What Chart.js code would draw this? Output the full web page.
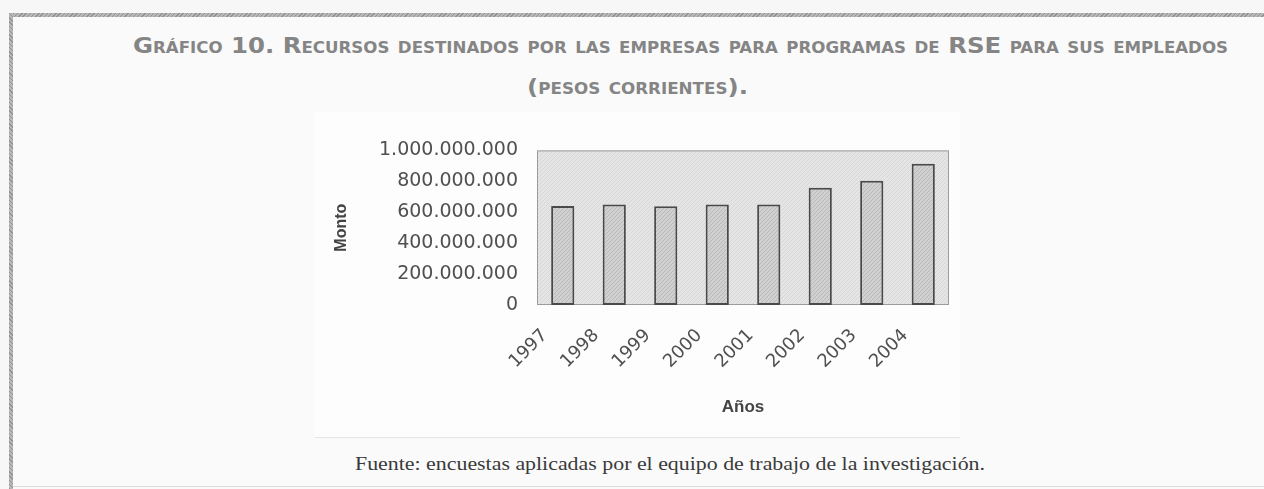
<!DOCTYPE html>
<html><head><meta charset="utf-8">
<script src="https://cdn.jsdelivr.net/npm/chart.js@4.4.1/dist/chart.umd.min.js"></script>
<style>
html,body{margin:0;padding:0;}
body{width:1264px;height:489px;position:relative;overflow:hidden;background:#f7f7f7;}
#frameTop{position:absolute;left:9px;top:13px;width:1255px;height:4px;background:repeating-linear-gradient(135deg,#939393 0 1px,#b8b8b8 1px 3px);}
#frameLeft{position:absolute;left:9px;top:13px;width:4px;height:476px;background:repeating-linear-gradient(45deg,#939393 0 1px,#b8b8b8 1px 3px);}
#inner{position:absolute;left:13px;top:17px;right:0;bottom:0;background:#fafafa;}
#bottomLine{position:absolute;left:13px;right:0;top:486px;height:1px;background:#dcdcdc;}
#box{position:absolute;left:315px;top:112px;width:645px;height:325px;background:#fdfdfd;border-bottom:1px solid #e4e4e4;}
.t{position:absolute;white-space:nowrap;transform-origin:0 0;}
#t1{top:33px;left:133px;font:bold 22px "DejaVu Sans";font-variant:small-caps;color:#858585;}
#t2{top:74px;left:527px;font:bold 22px "DejaVu Sans";font-variant:small-caps;color:#858585;}
#foot{top:453px;left:355px;font:19px "Liberation Serif";color:#3a3a3a;}
#wrap{position:absolute;left:300px;top:120px;width:680px;height:310px;}
</style></head>
<body>
<div id="frameTop"></div><div id="frameLeft"></div><div id="inner"></div>
<div id="bottomLine"></div>
<div id="box"></div>
<div class="t" id="t1" data-w="1095">Gráfico 10. Recursos destinados por las empresas para programas de RSE para sus empleados</div>
<div class="t" id="t2" data-w="221">(pesos corrientes).</div>
<div class="t" id="foot" data-w="630">Fuente: encuestas aplicadas por el equipo de trabajo de la investigación.</div>
<div id="wrap"><canvas id="c" width="680" height="310"></canvas></div>
<script>
const categories = ['1997','1998','1999','2000','2001','2002','2003','2004'];
const montos = [640000000, 650000000, 638000000, 650000000, 650000000, 758000000, 803000000, 913000000];
const yTickValues = [0, 200000000, 400000000, 600000000, 800000000, 1000000000];
const yTickLabels = ['0','200.000.000','400.000.000','600.000.000','800.000.000','1.000.000.000'];

document.querySelectorAll('.t').forEach(el=>{
  const w = el.getBoundingClientRect().width;
  el.style.transform = 'scaleX(' + (parseFloat(el.dataset.w)/w) + ')';
});

function makePattern(base, line){
  const p = document.createElement('canvas'); p.width = 4; p.height = 4;
  const g = p.getContext('2d');
  g.fillStyle = base; g.fillRect(0,0,4,4);
  g.fillStyle = line;
  for(let i=0;i<4;i++){ g.fillRect(i,3-i,1,1); }
  return g.createPattern(p,'repeat');
}
const ctx = document.getElementById('c').getContext('2d');
const barFill = makePattern('#d0d0d0','#b9b9b9');
const plotFill = makePattern('#e5e5e5','#d7d7d7');

const plotBg = {
  id:'plotBg',
  beforeDatasetsDraw(chart){
    const {ctx, chartArea:a} = chart;
    ctx.save();
    ctx.fillStyle = plotFill;
    ctx.fillRect(a.left, a.top, a.right-a.left, a.bottom-a.top);
    ctx.strokeStyle = '#9c9c9c'; ctx.lineWidth = 1;
    ctx.strokeRect(a.left+0.5, a.top+0.5, a.right-a.left-1, a.bottom-a.top-1);
    ctx.restore();
  }
};

new Chart(ctx, {
  type:'bar',
  data:{labels:categories, datasets:[{data:montos, backgroundColor:barFill, borderColor:'#4a4a4a', borderWidth:2, borderSkipped:false, barPercentage:0.45, categoryPercentage:1}]},
  options:{
    responsive:false, animation:false, devicePixelRatio:1,
    layout:{padding:{left:0,right:31,top:30,bottom:0}},
    plugins:{legend:{display:false}, tooltip:{enabled:false}, title:{display:false}},
    scales:{
      x:{
        grid:{display:false}, border:{display:false},
        ticks:{font:{family:'DejaVu Sans',size:18}, color:'#505050', minRotation:45, maxRotation:45, padding:12, labelOffset:-18},
        title:{display:true, text:'Años', font:{family:'Liberation Sans',size:17,weight:'bold'}, color:'#444', padding:{top:0,bottom:12}},
        afterFit(s){ s.height = 125; }
      },
      y:{
        min:0, max:1000000000,
        grid:{display:false, drawTicks:false}, border:{display:false},
        afterBuildTicks(s){ s.ticks = yTickValues.map(v=>({value:v})); },
        ticks:{font:{family:'DejaVu Sans',size:19}, color:'#505050', padding:19,
          callback(v){ return yTickLabels[yTickValues.indexOf(v)]; }},
        title:{display:true, text:'Monto', font:{family:'Liberation Sans',size:16,weight:'bold'}, color:'#444', padding:{top:32,bottom:0}},
        afterFit(s){ s.width = 237; }
      }
    }
  },
  plugins:[plotBg]
});
</script>
</body></html>
